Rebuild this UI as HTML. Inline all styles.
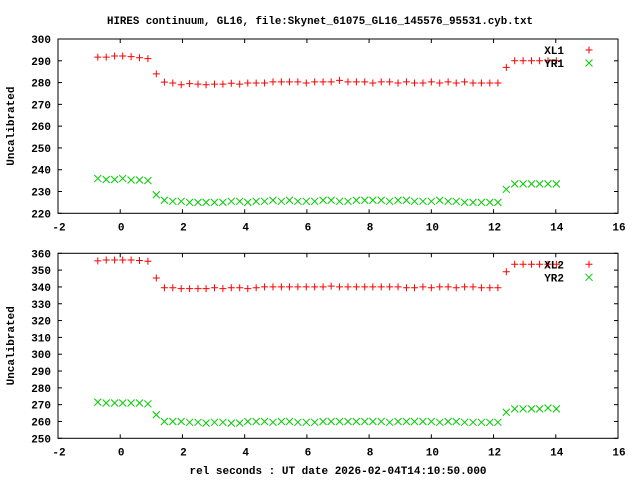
<!DOCTYPE html>
<html><head><meta charset="utf-8"><style>
body{margin:0;background:#fff}
svg text{font-family:"Liberation Mono",monospace;font-weight:bold;font-size:11px;fill:#000}
</style></head><body>
<svg id="chart" width="640" height="480" xmlns="http://www.w3.org/2000/svg">
<text x="320" y="24" text-anchor="middle" textLength="426" lengthAdjust="spacingAndGlyphs">HIRES continuum, GL16, file:Skynet_61075_GL16_145576_95531.cyb.txt</text>
<text x="338" y="474" text-anchor="middle">rel seconds : UT date 2026-02-04T14:10:50.000</text>
<g id="p1"></g>
<g id="p2"></g>
</svg>
<script>
const times=[-0.72,-0.45,-0.18,0.08,0.35,0.62,0.89,1.16,1.42,1.69,1.96,2.23,2.50,2.76,3.03,3.30,3.57,3.84,4.10,4.37,4.64,4.91,5.18,5.44,5.71,5.98,6.25,6.52,6.78,7.05,7.32,7.59,7.86,8.12,8.39,8.66,8.93,9.20,9.46,9.73,10.00,10.27,10.54,10.80,11.07,11.34,11.61,11.88,12.14,12.41,12.68,12.95,13.22,13.48,13.75,14.02];
const xl1=[291.7,291.7,292.2,292.2,291.9,291.4,291.0,284.0,280.2,279.8,279.0,279.5,279.3,279.0,279.3,279.3,279.7,279.3,279.8,279.8,279.8,280.3,280.3,280.3,280.3,279.8,280.3,280.3,280.3,281.0,280.3,280.3,280.3,279.8,280.3,280.3,279.8,280.3,279.8,279.8,280.3,279.8,280.3,279.8,280.3,279.8,279.8,279.8,279.8,287.0,290.0,290.0,290.0,290.0,290.0,290.0];
const yr1=[236.0,235.5,235.5,236.0,235.3,235.3,235.0,228.5,226.0,225.5,225.5,225.0,225.0,225.0,225.0,225.0,225.5,225.5,225.0,225.5,225.5,226.0,225.5,226.0,225.5,225.5,225.5,226.0,226.0,225.5,225.5,226.0,226.0,226.0,226.0,225.5,226.0,226.0,225.5,225.5,225.5,226.0,225.5,225.5,225.0,225.0,225.0,225.0,225.0,231.0,233.5,233.5,233.5,233.5,233.5,233.5];
const xl2=[355.5,356.0,356.0,356.0,356.0,355.7,355.3,345.3,339.5,339.5,339.0,339.0,339.0,339.0,339.5,339.0,339.5,339.5,339.0,339.5,340.0,340.0,340.0,340.0,340.0,340.0,340.0,340.0,340.5,340.0,340.0,340.0,340.0,340.0,340.0,340.0,340.0,339.5,339.5,340.0,339.5,340.0,340.0,339.5,340.0,340.0,339.5,339.5,339.5,349.0,353.5,353.5,353.5,353.5,353.5,353.5];
const yr2=[271.5,271.0,271.0,271.0,271.0,271.0,270.5,264.0,260.0,260.0,260.0,259.5,259.5,259.0,259.5,259.5,259.0,259.0,260.0,260.0,260.0,259.5,260.0,260.0,259.5,259.5,259.5,260.0,260.0,260.0,260.0,260.0,260.0,260.0,260.0,259.5,260.0,260.0,260.0,260.0,260.0,259.5,260.0,260.0,259.5,259.5,259.5,259.5,259.5,265.5,267.5,267.5,267.5,267.5,268.0,267.5];
const xTicks=[-2,0,2,4,6,8,10,12,14,16];
const yTicks1=[220,230,240,250,260,270,280,290,300];
const yTicks2=[250,260,270,280,290,300,310,320,330,340,350,360];
const names1=["XL1","YR1"], names2=["XL2","YR2"];
const NS="http://www.w3.org/2000/svg";
function mk(g,t,a){const e=document.createElementNS(NS,t);for(const k in a)e.setAttribute(k,a[k]);g.appendChild(e);return e;}
function panel(g,top,bot,ymin,ymax,yt,s1,s2,names){
  const L=58,R=618;
  const X=v=>L+(v+2)/18*(R-L);
  const Y=v=>bot-(v-ymin)/(ymax-ymin)*(bot-top);
  const fr=mk(g,'rect',{x:L,y:top,width:R-L,height:bot-top,fill:'none',stroke:'#000','stroke-width':1});
  
  
  xTicks.forEach(v=>{
    const x=X(v);
    mk(g,'line',{x1:x,y1:bot,x2:x,y2:bot-4,stroke:'#000'});
    mk(g,'line',{x1:x,y1:top,x2:x,y2:top+4,stroke:'#000'});
    const t=mk(g,'text',{x:x+1,y:bot+17,'text-anchor':'middle'});t.textContent=v;
    
    
  });
  yt.forEach(v=>{
    const y=Y(v);
    mk(g,'line',{x1:L,y1:y,x2:L+4,y2:y,stroke:'#000'});
    mk(g,'line',{x1:R,y1:y,x2:R-4,y2:y,stroke:'#000'});
    const t=mk(g,'text',{x:51,y:y+4,'text-anchor':'end'});t.textContent=v;
    
    
  });
  const yl=mk(g,'text',{x:14,y:(top+bot)/2,'text-anchor':'middle',transform:`rotate(-90 14 ${(top+bot)/2})`});
  yl.textContent='Uncalibrated';
  
  
  function plus(x,y){const p=mk(g,'path',{d:`M${x-3.5} ${y}H${x+3.5}M${x} ${y-3.5}V${y+3.5}`,stroke:'#f00','stroke-width':1,fill:'none'});
    
    }
  function cross(x,y){const p=mk(g,'path',{d:`M${x-3.5} ${y-3.5}L${x+3.5} ${y+3.5}M${x-3.5} ${y+3.5}L${x+3.5} ${y-3.5}`,stroke:'#0c0','stroke-width':1,fill:'none'});
    
    }
  times.forEach((t,i)=>{plus(X(t),Y(s1[i]));cross(X(t),Y(s2[i]));});
  const l1=mk(g,'text',{x:564,y:top+15,'text-anchor':'end','font-family':'Liberation Sans'});l1.textContent=names[0];
  
  
  plus(589,top+11);
  const l2=mk(g,'text',{x:564,y:top+28,'text-anchor':'end','font-family':'Liberation Sans'});l2.textContent=names[1];
  
  
  cross(589,top+24);
}
panel(document.getElementById('p1'),39,213.3,220,300,yTicks1,xl1,yr1,names1);
panel(document.getElementById('p2'),253.3,438.3,250,360,yTicks2,xl2,yr2,names2);
</script>
</body></html>
